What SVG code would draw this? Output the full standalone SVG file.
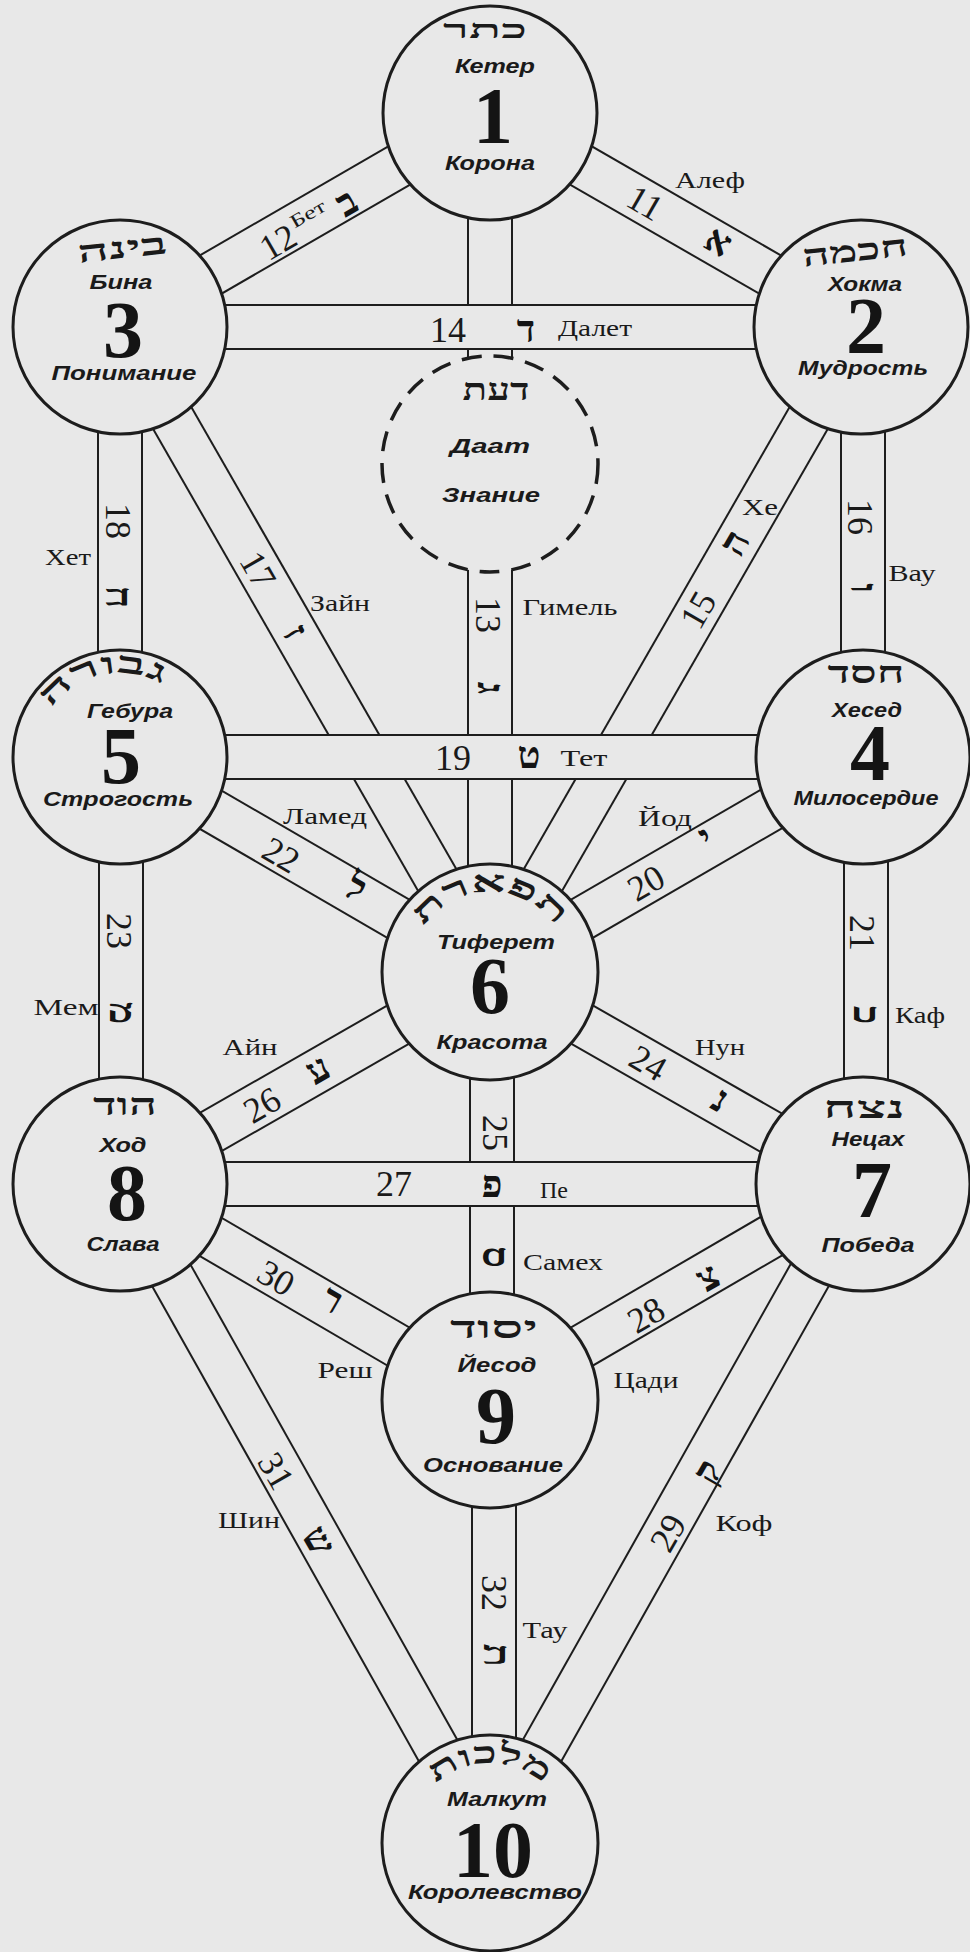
<svg xmlns="http://www.w3.org/2000/svg" width="970" height="1952" viewBox="0 0 970 1952">
<style>
.e{stroke:#1d1d1d;stroke-width:46;fill:none}
.f{stroke:#e8e8e8;stroke-width:42;fill:none}
.node{fill:#e8e8e8;stroke:#1d1d1d;stroke-width:3}
.daat{fill:#e8e8e8;stroke:#1d1d1d;stroke-width:3.5;stroke-dasharray:20 12}
.heb{font-family:"Liberation Serif","DejaVu Sans",serif;font-weight:bold;font-size:30px;fill:#1a1a1a;text-anchor:middle}
.nm{font-family:"Liberation Sans",Arial,sans-serif;font-weight:bold;font-style:italic;font-size:21px;fill:#1a1a1a;text-anchor:middle}
.num{font-family:"Liberation Serif",serif;font-weight:bold;font-size:80px;fill:#141414;text-anchor:middle}
.pn{font-family:"Liberation Serif",serif;font-size:36px;fill:#1a1a1a;text-anchor:middle}
.pl{font-family:"Liberation Serif",serif;font-size:24px;fill:#1a1a1a;text-anchor:middle}
.pb{font-family:"Liberation Serif",serif;font-size:19px;fill:#1a1a1a;text-anchor:middle}
.ph{font-family:"Liberation Serif","DejaVu Sans",serif;font-weight:bold;font-size:38px;fill:#141414;text-anchor:middle}
</style>
<defs>
<path id="arc5" d="M36,757 A84,84 0 0 1 204,757"/>
<path id="arc6" d="M410,972 A80,80 0 0 1 570,972"/>
<path id="arc10" d="M410,1843 A80,80 0 0 1 570,1843"/>
</defs>
<rect x="0" y="0" width="970" height="1952" fill="#e8e8e8"/>
<g id="connectors">
<g id="p11"><line class="e" x1="490" y1="113" x2="861" y2="327"/><line class="f" x1="490" y1="113" x2="861" y2="327"/></g>
<g id="p12"><line class="e" x1="120" y1="327" x2="490" y2="113"/><line class="f" x1="120" y1="327" x2="490" y2="113"/></g>
<g id="p15"><line class="e" x1="861" y1="327" x2="490" y2="972"/><line class="f" x1="861" y1="327" x2="490" y2="972"/></g>
<g id="p17"><line class="e" x1="120" y1="327" x2="490" y2="972"/><line class="f" x1="120" y1="327" x2="490" y2="972"/></g>
<g id="p20"><line class="e" x1="861" y1="757" x2="490" y2="972"/><line class="f" x1="861" y1="757" x2="490" y2="972"/></g>
<g id="p22"><line class="e" x1="120" y1="757" x2="490" y2="972"/><line class="f" x1="120" y1="757" x2="490" y2="972"/></g>
<g id="p24"><line class="e" x1="490" y1="972" x2="861" y2="1184"/><line class="f" x1="490" y1="972" x2="861" y2="1184"/></g>
<g id="p26"><line class="e" x1="120" y1="1184" x2="490" y2="972"/><line class="f" x1="120" y1="1184" x2="490" y2="972"/></g>
<g id="p28"><line class="e" x1="861" y1="1184" x2="490" y2="1400"/><line class="f" x1="861" y1="1184" x2="490" y2="1400"/></g>
<g id="p30"><line class="e" x1="120" y1="1184" x2="490" y2="1400"/><line class="f" x1="120" y1="1184" x2="490" y2="1400"/></g>
<g id="p29"><line class="e" x1="861" y1="1184" x2="490" y2="1843"/><line class="f" x1="861" y1="1184" x2="490" y2="1843"/></g>
<g id="p31"><line class="e" x1="120" y1="1184" x2="490" y2="1843"/><line class="f" x1="120" y1="1184" x2="490" y2="1843"/></g>
<g id="p13"><line class="e" x1="490" y1="113" x2="490" y2="972"/><line class="f" x1="490" y1="113" x2="490" y2="972"/></g>
<g id="p16"><line class="e" x1="863" y1="327" x2="863" y2="757"/><line class="f" x1="863" y1="327" x2="863" y2="757"/></g>
<g id="p18"><line class="e" x1="120" y1="327" x2="120" y2="757"/><line class="f" x1="120" y1="327" x2="120" y2="757"/></g>
<g id="p21"><line class="e" x1="866" y1="757" x2="866" y2="1184"/><line class="f" x1="866" y1="757" x2="866" y2="1184"/></g>
<g id="p23"><line class="e" x1="121" y1="757" x2="121" y2="1184"/><line class="f" x1="121" y1="757" x2="121" y2="1184"/></g>
<g id="p25"><line class="e" x1="492" y1="972" x2="492" y2="1400"/><line class="f" x1="492" y1="972" x2="492" y2="1400"/></g>
<g id="p32"><line class="e" x1="494" y1="1400" x2="494" y2="1843"/><line class="f" x1="494" y1="1400" x2="494" y2="1843"/></g>
<g id="p14"><line class="e" x1="120" y1="327" x2="861" y2="327"/><line class="f" x1="120" y1="327" x2="861" y2="327"/></g>
<g id="p19"><line class="e" x1="120" y1="757" x2="861" y2="757"/><line class="f" x1="120" y1="757" x2="861" y2="757"/></g>
<g id="p27"><line class="e" x1="120" y1="1184" x2="861" y2="1184"/><line class="f" x1="120" y1="1184" x2="861" y2="1184"/></g>
</g>
<g id="path-labels">
<text class="pn" transform="translate(645,203) rotate(30)" y="12">11</text>
<text class="ph" transform="translate(718,242) rotate(30)" y="12">א</text>
<text class="pl" x="710" y="188" textLength="70" lengthAdjust="spacingAndGlyphs">Алеф</text>
<text class="pn" transform="translate(278,242) rotate(-30)" y="12">12</text>
<text class="pb" transform="translate(308,214) rotate(-30)" y="6" textLength="38" lengthAdjust="spacingAndGlyphs">Бет</text>
<text class="ph" transform="translate(347,203) rotate(-30)" y="12">ב</text>
<text class="pn" transform="translate(488,615) rotate(90)" y="12">13</text>
<text class="ph" transform="translate(490,688) rotate(90)" y="12">ג</text>
<text class="pl" x="570" y="615" textLength="95" lengthAdjust="spacingAndGlyphs">Гимель</text>
<text class="pn" x="448" y="342">14</text>
<text class="ph" x="526" y="342">ד</text>
<text class="pl" x="595" y="336" textLength="74" lengthAdjust="spacingAndGlyphs">Далет</text>
<text class="pn" transform="translate(698,610) rotate(-60)" y="12">15</text>
<text class="ph" transform="translate(735,543) rotate(-60)" y="12">ה</text>
<text class="pl" x="760" y="515" textLength="36" lengthAdjust="spacingAndGlyphs">Хе</text>
<text class="pn" transform="translate(860,517) rotate(90)" y="12">16</text>
<text class="ph" transform="translate(863,588) rotate(90)" y="12">ו</text>
<text class="pl" x="912" y="581" textLength="47" lengthAdjust="spacingAndGlyphs">Вау</text>
<text class="pn" transform="translate(258,570) rotate(60)" y="12">17</text>
<text class="ph" transform="translate(295,632) rotate(60)" y="12">ז</text>
<text class="pl" x="340" y="611" textLength="60" lengthAdjust="spacingAndGlyphs">Зайн</text>
<text class="pn" transform="translate(118,521) rotate(90)" y="12">18</text>
<text class="ph" transform="translate(118,597) rotate(90)" y="12">ח</text>
<text class="pl" x="68" y="565" textLength="46" lengthAdjust="spacingAndGlyphs">Хет</text>
<text class="pn" x="453" y="770">19</text>
<text class="ph" x="529" y="768">ט</text>
<text class="pl" x="584" y="766" textLength="47" lengthAdjust="spacingAndGlyphs">Тет</text>
<text class="pn" transform="translate(646,883) rotate(-30)" y="12">20</text>
<text class="ph" transform="translate(706,838) rotate(-30)" y="12">י</text>
<text class="pl" x="665" y="826" textLength="54" lengthAdjust="spacingAndGlyphs">Йод</text>
<text class="pn" transform="translate(862,933) rotate(90)" y="12">21</text>
<text class="ph" transform="translate(866,1015) rotate(90)" y="12">כ</text>
<text class="pl" x="920" y="1023" textLength="50" lengthAdjust="spacingAndGlyphs">Каф</text>
<text class="pn" transform="translate(281,855) rotate(30)" y="12">22</text>
<text class="ph" transform="translate(356,888) rotate(30)" y="12">ל</text>
<text class="pl" x="325" y="824" textLength="84" lengthAdjust="spacingAndGlyphs">Ламед</text>
<text class="pn" transform="translate(119,931) rotate(90)" y="12">23</text>
<text class="ph" transform="translate(122,1013) rotate(90)" y="12">מ</text>
<text class="pl" x="66" y="1015" textLength="65" lengthAdjust="spacingAndGlyphs">Мем</text>
<text class="pn" transform="translate(648,1063) rotate(30)" y="12">24</text>
<text class="ph" transform="translate(720,1100) rotate(30)" y="12">נ</text>
<text class="pl" x="720" y="1055" textLength="50" lengthAdjust="spacingAndGlyphs">Нун</text>
<text class="pn" transform="translate(495,1133) rotate(90)" y="12">25</text>
<text class="ph" transform="translate(495,1257) rotate(90)" y="12">ס</text>
<text class="pl" x="563" y="1270" textLength="80" lengthAdjust="spacingAndGlyphs">Самех</text>
<text class="pn" transform="translate(262,1105) rotate(-30)" y="12">26</text>
<text class="ph" transform="translate(318,1070) rotate(-30)" y="12">ע</text>
<text class="pl" x="250" y="1055" textLength="55" lengthAdjust="spacingAndGlyphs">Айн</text>
<text class="pn" x="394" y="1196">27</text>
<text class="ph" x="492" y="1197">פ</text>
<text class="pl" x="554" y="1198" textLength="28" lengthAdjust="spacingAndGlyphs">Пе</text>
<text class="pn" transform="translate(646,1315) rotate(-30)" y="12">28</text>
<text class="ph" transform="translate(708,1278) rotate(-30)" y="12">צ</text>
<text class="pl" x="646" y="1388" textLength="65" lengthAdjust="spacingAndGlyphs">Цади</text>
<text class="pn" transform="translate(668,1533) rotate(-60)" y="12">29</text>
<text class="ph" transform="translate(708,1472) rotate(-60)" y="12">ק</text>
<text class="pl" x="744" y="1531" textLength="57" lengthAdjust="spacingAndGlyphs">Коф</text>
<text class="pn" transform="translate(276,1278) rotate(30)" y="12">30</text>
<text class="ph" transform="translate(332,1300) rotate(30)" y="12">ר</text>
<text class="pl" x="345" y="1378" textLength="55" lengthAdjust="spacingAndGlyphs">Реш</text>
<text class="pn" transform="translate(276,1471) rotate(60)" y="12">31</text>
<text class="ph" transform="translate(318,1541) rotate(60)" y="12">ש</text>
<text class="pl" x="249" y="1528" textLength="62" lengthAdjust="spacingAndGlyphs">Шин</text>
<text class="pn" transform="translate(494,1593) rotate(90)" y="12">32</text>
<text class="ph" transform="translate(496,1655) rotate(90)" y="12">ת</text>
<text class="pl" x="545" y="1638" textLength="45" lengthAdjust="spacingAndGlyphs">Тау</text>
</g>
<g id="node-1">
<circle class="node" cx="490" cy="113" r="107"/>
<text class="heb" x="485" y="38" style="font-size:26px" textLength="84" lengthAdjust="spacingAndGlyphs">כתר</text>
<text class="nm" x="495" y="73" textLength="80" lengthAdjust="spacingAndGlyphs">Кетер</text>
<text class="num" x="493" y="143">1</text>
<text class="nm" x="490" y="170" textLength="90" lengthAdjust="spacingAndGlyphs">Корона</text>
</g>
<g id="node-2">
<circle class="node" cx="861" cy="327" r="107"/>
<text class="heb" x="855" y="261" transform="rotate(-6 855 250)" textLength="106" lengthAdjust="spacingAndGlyphs">חכמה</text>
<text class="nm" x="865" y="291" textLength="74" lengthAdjust="spacingAndGlyphs">Хокма</text>
<text class="num" x="866" y="353">2</text>
<text class="nm" x="863" y="375" textLength="130" lengthAdjust="spacingAndGlyphs">Мудрость</text>
</g>
<g id="node-3">
<circle class="node" cx="120" cy="327" r="107"/>
<text class="heb" x="122" y="258" transform="rotate(-6 122 247)" textLength="90" lengthAdjust="spacingAndGlyphs">בינה</text>
<text class="nm" x="121" y="289" textLength="63" lengthAdjust="spacingAndGlyphs">Бина</text>
<text class="num" x="123" y="357">3</text>
<text class="nm" x="124" y="380" textLength="145" lengthAdjust="spacingAndGlyphs">Понимание</text>
</g>
<g id="node-daat">
<circle class="daat" cx="490" cy="464" r="108"/>
<text class="heb" x="496" y="400" textLength="67" lengthAdjust="spacingAndGlyphs">דעת</text>
<text class="nm" x="490" y="453" textLength="80" lengthAdjust="spacingAndGlyphs">Даат</text>
<text class="nm" x="491" y="502" textLength="98" lengthAdjust="spacingAndGlyphs">Знание</text>
</g>
<g id="node-4">
<circle class="node" cx="863" cy="757" r="107"/>
<text class="heb" x="866" y="683" textLength="77" lengthAdjust="spacingAndGlyphs">חסד</text>
<text class="nm" x="867" y="717" textLength="70" lengthAdjust="spacingAndGlyphs">Хесед</text>
<text class="num" x="870" y="780">4</text>
<text class="nm" x="866" y="805" textLength="145" lengthAdjust="spacingAndGlyphs">Милосердие</text>
</g>
<g id="node-5">
<circle class="node" cx="120" cy="757" r="107"/>
<text class="heb"><textPath href="#arc5" startOffset="43%" textLength="125" lengthAdjust="spacingAndGlyphs">גבורה</textPath></text>
<text class="nm" x="130" y="718" textLength="86" lengthAdjust="spacingAndGlyphs">Гебура</text>
<text class="num" x="121" y="783">5</text>
<text class="nm" x="118" y="806" textLength="150" lengthAdjust="spacingAndGlyphs">Строгость</text>
</g>
<g id="node-6">
<circle class="node" cx="490" cy="972" r="108"/>
<text class="heb"><textPath href="#arc6" startOffset="50%" textLength="155" lengthAdjust="spacingAndGlyphs">תפארת</textPath></text>
<text class="nm" x="496" y="949" textLength="118" lengthAdjust="spacingAndGlyphs">Тиферет</text>
<text class="num" x="490" y="1013">6</text>
<text class="nm" x="492" y="1049" textLength="111" lengthAdjust="spacingAndGlyphs">Красота</text>
</g>
<g id="node-7">
<circle class="node" cx="863" cy="1184" r="107"/>
<text class="heb" x="864" y="1118" textLength="82" lengthAdjust="spacingAndGlyphs">נצח</text>
<text class="nm" x="868" y="1146" textLength="73" lengthAdjust="spacingAndGlyphs">Нецах</text>
<text class="num" x="872" y="1217">7</text>
<text class="nm" x="868" y="1252" textLength="93" lengthAdjust="spacingAndGlyphs">Победа</text>
</g>
<g id="node-8">
<circle class="node" cx="120" cy="1184" r="107"/>
<text class="heb" x="125" y="1115" textLength="64" lengthAdjust="spacingAndGlyphs">הוד</text>
<text class="nm" x="123" y="1152" textLength="47" lengthAdjust="spacingAndGlyphs">Ход</text>
<text class="num" x="127" y="1220">8</text>
<text class="nm" x="123" y="1251" textLength="73" lengthAdjust="spacingAndGlyphs">Слава</text>
</g>
<g id="node-9">
<circle class="node" cx="490" cy="1400" r="108"/>
<text class="heb" x="494" y="1338" textLength="88" lengthAdjust="spacingAndGlyphs">יסוד</text>
<text class="nm" x="497" y="1372" textLength="79" lengthAdjust="spacingAndGlyphs">Йесод</text>
<text class="num" x="496" y="1443">9</text>
<text class="nm" x="493" y="1472" textLength="140" lengthAdjust="spacingAndGlyphs">Основание</text>
</g>
<g id="node-10">
<circle class="node" cx="490" cy="1843" r="108"/>
<text class="heb"><textPath href="#arc10" startOffset="50%" textLength="118" lengthAdjust="spacingAndGlyphs">מלכות</textPath></text>
<text class="nm" x="497" y="1806" textLength="100" lengthAdjust="spacingAndGlyphs">Малкут</text>
<text class="num" x="493" y="1877">10</text>
<text class="nm" x="495" y="1899" textLength="174" lengthAdjust="spacingAndGlyphs">Королевство</text>
</g>
</svg>
